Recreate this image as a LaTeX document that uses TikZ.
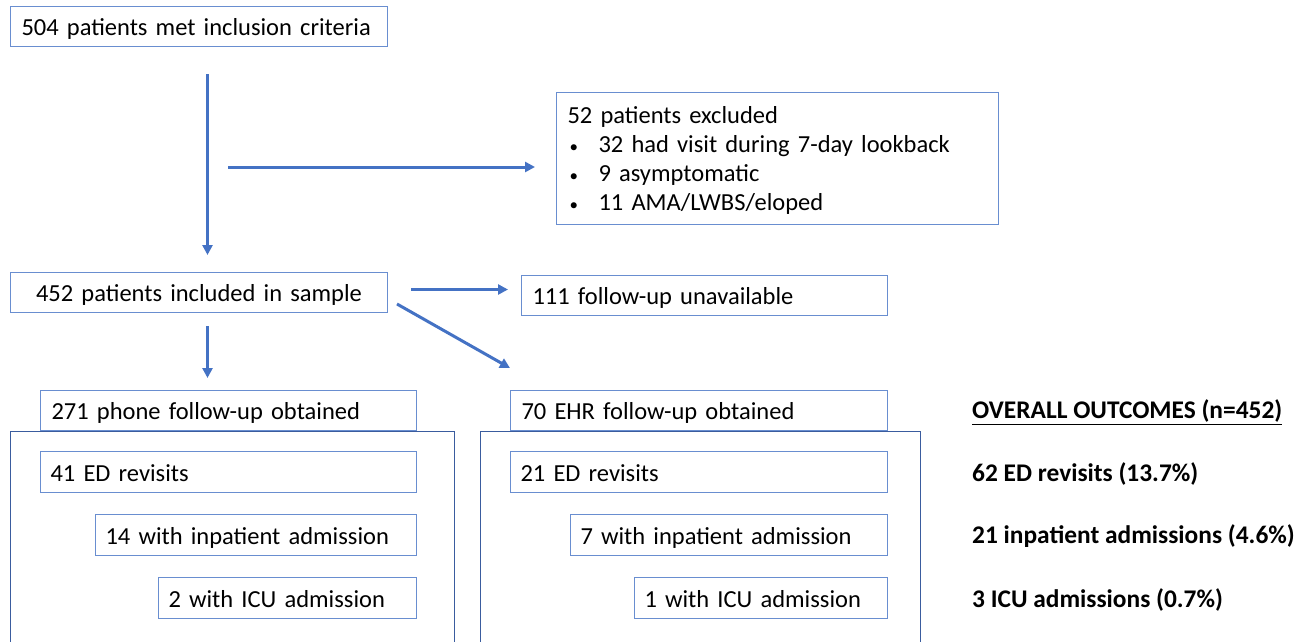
\documentclass[tikz,border=0pt]{standalone}
\usepackage{fontspec}
\setmainfont{Carlito}
\usepackage{xcolor}
\usetikzlibrary{arrows.meta, positioning, calc}
\definecolor{boxblue}{HTML}{4472C4}
\definecolor{grpblue}{HTML}{3A5C9E}

\tikzset{
	fbox/.style={draw=boxblue!80, line width=1pt, minimum height=40pt, inner xsep=11pt, inner ysep=0pt, align=left, anchor=north west, font=\fontsize{24.5}{29}\selectfont, text height=18pt, text depth=0pt},
	grpbox/.style={draw=grpblue, line width=1.2pt, anchor=north west},
	flow/.style={draw=boxblue, line width=3pt, -{Triangle[length=10pt,width=10pt]}},
	total/.style={anchor=west, inner sep=0pt, font=\fontsize{25.4}{30}\selectfont\bfseries}
}
\newcommand{\exitem}{\makebox[31pt][l]{\hspace{2pt}\fontsize{17}{17}\selectfont\textbullet}}

\begin{document}
\begin{tikzpicture}[x=1pt, y=-1pt]
				\useasboundingbox (0,0) rectangle (1303,641);
				\clip (0,0) rectangle (1303,641);
				
				% Top of the flow
				\node[fbox, text width=355pt] (met) at (10,6) {504 patients met inclusion criteria};
				\node[fbox, text width=420pt, minimum height=132pt, text height=, text depth=] (excl) at (556,92) {\rule{0pt}{20pt}52 patients excluded\\
					\exitem 32 had visit during 7-day lookback\\
					\exitem 9 asymptomatic\\
					\exitem 11 AMA/LWBS/eloped};
				\node[fbox, text width=355pt, align=center] (incl) at (10,272) {452 patients included in sample};
				\node[fbox, text width=344pt] (unavail) at (521,275) {111 follow-up unavailable};
				
				% Follow-up groups
				\node[grpbox, minimum width=444pt, minimum height=240pt] (phonegrp) at (10,431) {};
				\node[grpbox, minimum width=440pt, minimum height=240pt] (ehrgrp) at (480,431) {};
				\node[fbox, text width=354pt, fill=white] (phone) at (40,390) {271 phone follow-up obtained};
				\node[fbox, text width=355pt, fill=white] (ehr) at (510,390) {70 EHR follow-up obtained};
				
				\node[fbox, text width=356pt, minimum height=41pt, inner xsep=10pt] (phoneed) at (40,451) {41 ED revisits};
				\node[fbox, text width=301pt, minimum height=41pt, inner xsep=10pt] (phoneip) at (95,514) {14 with inpatient admission};
				\node[fbox, text width=238pt, minimum height=41pt, inner xsep=10pt] (phoneicu) at (158,577) {2 with ICU admission};
				
				\node[fbox, text width=357pt, minimum height=41pt, inner xsep=10pt] (ehred) at (510,451) {21 ED revisits};
				\node[fbox, text width=297pt, minimum height=41pt, inner xsep=10pt] (ehrip) at (570,514) {7 with inpatient admission};
				\node[fbox, text width=233pt, minimum height=41pt, inner xsep=10pt] (ehricu) at (634,577) {1 with ICU admission};
				
				% Overall outcomes
				\node[total] (overall) at (972,412) {\underline{OVERALL OUTCOMES (n=452)}};
				\node[total] (alled) at (972,474) {62 ED revisits (13.7\%)};
				\node[total] (allip) at (972,536) {21 inpatient admissions (4.6\%)};
				\node[total] (allicu) at (972,600) {3 ICU admissions (0.7\%)};
				
				% Arrows
				\coordinate (split) at (228,167);
				\draw[flow, shorten <=27pt, shorten >=17pt] ([xshift=8.5pt]met.south) -- ([xshift=8.5pt]incl.north);
				\draw[flow, shorten >=21pt] (split) -- (split -| excl.west);
				\draw[flow] ([shift={(23pt,3pt)}]incl.east) -- ([shift={(-13pt,6pt)}]unavail.west);
				\draw[flow] ([shift={(9pt,9pt)}]incl.south east) -- ([yshift=22pt]ehr.north west);
				\draw[flow] ([shift={(8.5pt,-13pt)}]incl.south) -- ([shift={(-21pt,12pt)}]phone.north);
			\end{tikzpicture}
\end{document}
